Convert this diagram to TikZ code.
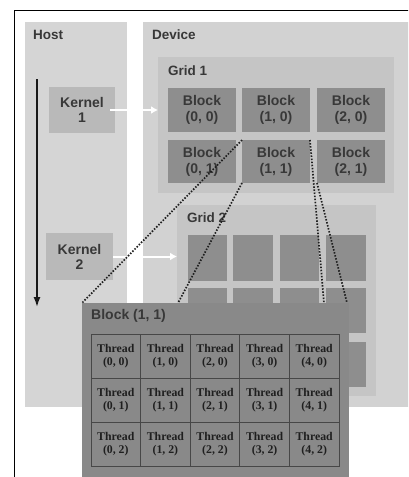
\documentclass[tikz,border=0pt]{standalone}
\usepackage{fontspec}
\setmainfont{Liberation Sans}
\newfontfamily\thrfont{Liberation Serif}
\usetikzlibrary{arrows.meta}
\definecolor{hostc}{HTML}{D5D5D5}
\definecolor{devc}{HTML}{D2D2D2}
\definecolor{gridc}{HTML}{C5C5C5}
\definecolor{blockc}{HTML}{8E8E8E}
\definecolor{kernc}{HTML}{B9B9B9}
\definecolor{bigc}{HTML}{898989}
\definecolor{txtc}{HTML}{383838}
\definecolor{linec}{HTML}{474747}
\begin{document}
\begin{tikzpicture}[x=1pt,y=-1pt,
  rbox/.style={anchor=north west,inner sep=0pt,outer sep=0pt},
  lbl/.style={anchor=west,inner sep=0pt,text=txtc,font=\bfseries\fontsize{13.5}{15}\selectfont},
  btxt/.style={text=txtc,align=center,font=\bfseries\fontsize{14}{16}\selectfont},
  ktxt/.style={text=txtc,align=center,font=\bfseries\fontsize{14}{15}\selectfont},
  blk/.style={rbox,fill=blockc},
  thr/.style={rbox,fill=bigc,draw=linec,line width=0.9pt,minimum width=49.6pt,minimum height=44pt,
    text=black!88,align=center,font=\thrfont\bfseries\fontsize{11.8}{13.5}\selectfont},
  warrow/.style={white,line width=2pt,-{Latex[length=7pt,width=8pt]}},
  dots/.style={black!88,line width=1.7pt,dash pattern=on 1.5pt off 1.6pt}
]
\useasboundingbox (0,0) rectangle (408,477);
\clip (0,0) rectangle (408,477);
\fill[white] (0,0) rectangle (408,477);
% frame
\draw[black,line width=1.6pt] (14.5,480) -- (14.5,10.5) -- (410,10.5);
% panels
\node[rbox,fill=hostc,minimum width=102pt,minimum height=385pt] (host) at (25,22) {};
\node[rbox,fill=devc,minimum width=275pt,minimum height=385pt] (dev) at (143,22) {};
\node[lbl] (hostl) at (33,35) {Host};
\node[lbl] (devl) at (152,35) {Device};
% grid 1
\node[rbox,fill=gridc,minimum width=236pt,minimum height=136pt] (g1) at (158,57) {};
\node[lbl] (g1l) at (168,71) {Grid 1};
\node[blk,minimum width=68pt,minimum height=44pt] (b00) at (168,88) {};
\node[blk,minimum width=68pt,minimum height=44pt] (b10) at (242,88) {};
\node[blk,minimum width=68pt,minimum height=44pt] (b20) at (317,88) {};
\node[blk,minimum width=68pt,minimum height=43pt] (b01) at (168,140) {};
\node[blk,minimum width=68pt,minimum height=43pt] (b11) at (242,140) {};
\node[blk,minimum width=68pt,minimum height=43pt] (b21) at (317,140) {};
\foreach \n/\t in {b00/{(0, 0)},b10/{(1, 0)},b20/{(2, 0)},b01/{(0, 1)},b11/{(1, 1)},b21/{(2, 1)}}
  \node[btxt] at (\n.center) {Block\\\t};
% kernels
\node[rbox,fill=kernc,minimum width=66pt,minimum height=46pt] (k1) at (49,87) {};
\node[ktxt] at (k1.center) {Kernel\\1};
\node[rbox,fill=kernc,minimum width=67pt,minimum height=47pt] (k2) at (46,233) {};
\node[ktxt] at (k2.center) {Kernel\\2};
% grid 2
\node[rbox,fill=gridc,minimum width=199pt,minimum height=191pt] (g2) at (177,205) {};
\node[lbl] (g2l) at (187,218) {Grid 2};
\foreach \x/\w [count=\i] in {188/39,233/40,280/39,326/40}
  \foreach \y/\h [count=\j] in {235/46,288/45,342/45}
    \node[blk,minimum width=\w pt,minimum height=\h pt] (gb\i\j) at (\x,\y) {};
% arrows
\draw[warrow] ([xshift=-5pt]k1.east) -- (g1.west |- k1.east);
\draw[warrow] (k2.east) -- (g2.west |- k2.east);
\coordinate (tl0) at (37,79);
\coordinate (tl1) at (37,307);
\draw[black!90,line width=1.5pt,-{Latex[length=10pt,width=7pt]}] (tl0) -- (tl1);
% big block
\node[rbox,fill=bigc,minimum width=267pt,minimum height=190pt] (big) at (82,303) {};
\node[lbl,font=\bfseries\fontsize{14}{16}\selectfont] (bigl) at (91,316) {Block (1, 1)};
\foreach \c in {0,...,4}
  \foreach \r in {0,...,2}
    \node[thr] (t\c\r) at ({91+\c*49.6},{334+\r*44}) {Thread\\(\c, \r)};
% dotted connectors
\coordinate (e2) at (178,303);
\coordinate (e3) at (324,303);
\draw[dots] (b11.north west) -- (big.north west);
\draw[dots] (b11.south west) -- (e2);
\draw[dots] (b11.north east) -- (e3);
\draw[dots] (b21.south west) -- ([xshift=-2pt]big.north east);
\end{tikzpicture}
\end{document}
